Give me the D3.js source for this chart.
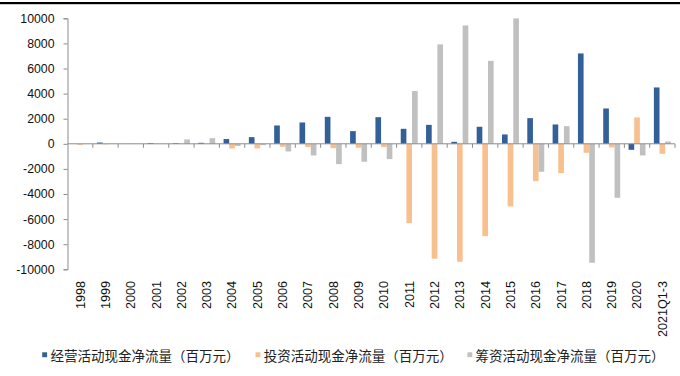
<!DOCTYPE html>
<html>
<head>
<meta charset="utf-8">
<script src="https://cdn.jsdelivr.net/npm/d3@7"></script>
<style>
  html, body { margin: 0; padding: 0; background: #fff; }
  svg { display: block; }
</style>
</head>
<body>
<svg id="chart" width="680" height="376"></svg>
<script>
// Cash flow by year (million yuan)
const years = ["1998","1999","2000","2001","2002","2003","2004","2005","2006","2007","2008","2009","2010","2011","2012","2013","2014","2015","2016","2017","2018","2019","2020","2021Q1-3"];
const operating = [0, 100, 0, 60, 50, 80, 380, 530, 1460, 1700, 2150, 1010, 2120, 1195, 1510, 160, 1355, 745, 2045, 1540, 7200, 2815, -480, 4490];
const investing = [-80, -40, -20, -20, -10, -20, -380, -370, -240, -260, -350, -320, -265, -6320, -9160, -9400, -7360, -4990, -2975, -2340, -720, -290, 2100, -800];
const financing = [0, 0, 0, 0, 350, 450, -170, -100, -610, -930, -1620, -1430, -1220, 4200, 7920, 9430, 6610, 9990, -2230, 1405, -9480, -4300, -930, 185];
const seriesNames = ["经营活动现金净流量（百万元）", "投资活动现金净流量（百万元）", "筹资活动现金净流量（百万元）"];
const seriesColors = ["#34609a", "#f9c08f", "#c0c0c0"];
const yTicks = [10000, 8000, 6000, 4000, 2000, 0, -2000, -4000, -6000, -8000, -10000];

const series = [operating, investing, financing];
const svg = d3.select("#chart");
const numFont = "'Liberation Sans', Arial, sans-serif";
const cjkFont = "'Noto Sans CJK SC', 'Liberation Sans', sans-serif";
const axisColor = "#8c8c8c";

// rule across the top edge
svg.append("rect").attr("x", 0).attr("y", 2).attr("width", 680).attr("height", 2.2).attr("fill", "#000");

const left = 67.5, right = 675;
const x = d3.scaleBand().domain(years).range([left, right]).paddingInner(0.33).paddingOuter(0.165);
const step = x.step();
const xs = d3.scaleBand().domain([0, 1, 2]).range([0, x.bandwidth()]).padding(0);
const y = d3.scaleLinear().domain([-10000, 10000]).range([269.3, 18.3]);

// y axis
const yAxis = svg.append("g").attr("transform", `translate(${left},0)`)
  .call(d3.axisLeft(y).tickValues(yTicks).tickFormat(d => String(d)).tickSize(4).tickPadding(9));
yAxis.select(".domain").attr("stroke", axisColor);
yAxis.selectAll(".tick line").attr("stroke", axisColor);
yAxis.selectAll(".tick text").attr("font-family", numFont).attr("font-size", 12.3).attr("fill", "#111");

// bars
years.forEach((yr, i) => {
  series.forEach((vals, s) => {
    const v = vals[i];
    svg.append("rect")
      .attr("x", x(yr) + xs(s))
      .attr("width", xs.bandwidth())
      .attr("y", y(Math.max(0, v)))
      .attr("height", Math.abs(y(v) - y(0)))
      .attr("fill", seriesColors[s]);
  });
});

// zero line with category boundary ticks
const zeroY = y(0);
svg.append("line").attr("x1", left).attr("x2", right).attr("y1", zeroY).attr("y2", zeroY)
  .attr("stroke", axisColor).attr("stroke-width", 1);
for (let i = 1; i <= years.length; i++) {
  const tx = left + i * step;
  svg.append("line").attr("x1", tx).attr("x2", tx).attr("y1", zeroY).attr("y2", zeroY + 4)
    .attr("stroke", axisColor).attr("stroke-width", 1);
}

// category labels, rotated
years.forEach(yr => {
  const cx = x(yr) + x.bandwidth() / 2;
  svg.append("text")
    .attr("transform", `translate(${cx},281) rotate(-90)`)
    .attr("text-anchor", "end")
    .attr("dy", "0.35em")
    .attr("font-family", numFont)
    .attr("font-size", 12.6)
    .attr("fill", "#111")
    .text(yr);
});

// legend
const legendX = [42.2, 255.5, 467.4];
seriesNames.forEach((name, s) => {
  svg.append("rect").attr("x", legendX[s]).attr("y", 352.3).attr("width", 4.9).attr("height", 4.9)
    .attr("fill", seriesColors[s]);
  svg.append("text").attr("x", legendX[s] + 8.2).attr("y", 361)
    .attr("font-family", cjkFont).attr("font-size", 13.5).attr("fill", "#222")
    .text(name);
});
</script>
</body>
</html>
